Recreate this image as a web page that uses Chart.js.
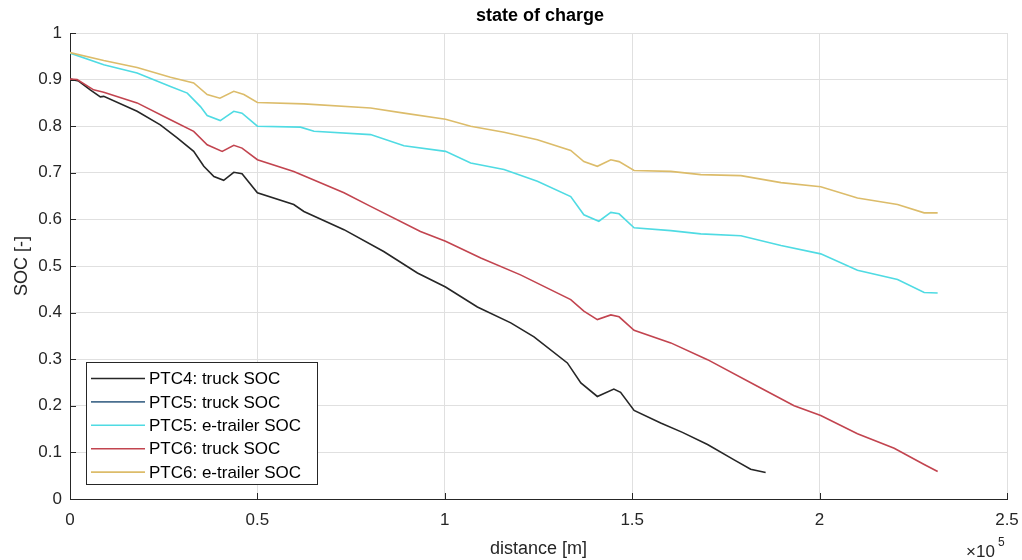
<!DOCTYPE html>
<html>
<head>
<meta charset="utf-8">
<script src="https://cdn.jsdelivr.net/npm/chart.js@4/dist/chart.umd.min.js"></script>
<style>
  html, body { margin: 0; padding: 0; background: #fff; }
  #wrap { width: 1022px; height: 560px; }
</style>
</head>
<body>
<div id="wrap"><canvas id="soc" width="1022" height="560"></canvas></div>
<script>
// --- DATA (distance in m, SOC in -) ---
const seriesNames = ['PTC4: truck SOC', 'PTC5: truck SOC', 'PTC5: e-trailer SOC', 'PTC6: truck SOC', 'PTC6: e-trailer SOC'];
const seriesColors = ['#262626', '#4a6f8f', '#4fdbe3', '#c2444f', '#dcbc6a'];

const ptc4TruckX = [0, 2300, 5400, 8100, 9000, 17900, 24100, 28600, 33000, 35700, 38400, 41000, 43700, 45900, 50000, 59700, 62400, 73100, 83700, 92700, 100200, 108700, 117600, 123800, 132700, 136300, 140700, 145100, 146900, 150500, 157600, 163400, 170100, 177200, 181600, 185600];
const ptc4TruckSoc = [0.901, 0.897, 0.878, 0.863, 0.864, 0.832, 0.803, 0.775, 0.746, 0.714, 0.692, 0.684, 0.701, 0.698, 0.657, 0.632, 0.617, 0.578, 0.531, 0.485, 0.455, 0.412, 0.378, 0.348, 0.292, 0.249, 0.220, 0.236, 0.229, 0.190, 0.163, 0.143, 0.117, 0.084, 0.064, 0.057];

// PTC5 truck curve is not visible in the picture, only its legend entry
const ptc5TruckX = [];
const ptc5TruckSoc = [];

const ptc5TrailerX = [0, 9000, 17900, 26800, 31300, 34800, 36600, 40100, 43700, 45900, 50000, 61500, 65100, 80200, 89100, 100200, 106900, 115800, 124700, 133600, 137100, 141100, 144300, 146500, 150500, 160300, 168300, 179000, 189700, 200300, 210100, 220800, 227900, 231500];
const ptc5TrailerSoc = [0.957, 0.932, 0.914, 0.885, 0.871, 0.842, 0.823, 0.812, 0.832, 0.828, 0.800, 0.798, 0.789, 0.782, 0.758, 0.746, 0.721, 0.707, 0.682, 0.649, 0.610, 0.596, 0.615, 0.612, 0.582, 0.576, 0.569, 0.565, 0.544, 0.526, 0.491, 0.471, 0.443, 0.442];

const ptc6TruckX = [0, 1900, 6300, 9000, 17900, 26800, 33000, 36600, 40600, 43700, 45900, 50000, 59700, 73100, 80200, 93500, 100200, 109600, 120200, 133600, 137100, 140700, 144300, 146500, 150500, 160300, 170100, 183400, 193200, 200300, 210100, 219900, 227900, 231500];
const ptc6TruckSoc = [0.901, 0.900, 0.878, 0.873, 0.850, 0.814, 0.789, 0.760, 0.746, 0.759, 0.753, 0.728, 0.703, 0.657, 0.628, 0.574, 0.553, 0.517, 0.481, 0.428, 0.403, 0.385, 0.395, 0.391, 0.362, 0.335, 0.299, 0.242, 0.200, 0.179, 0.140, 0.109, 0.074, 0.059];

const ptc6TrailerX = [0, 9000, 17900, 26800, 33000, 36600, 40000, 43700, 46400, 50000, 62400, 80200, 89100, 100200, 106900, 115800, 124700, 133600, 137100, 140700, 144300, 146500, 150500, 160300, 168300, 179000, 189700, 200300, 210100, 220800, 227900, 231500];
const ptc6TrailerSoc = [0.958, 0.941, 0.926, 0.905, 0.893, 0.868, 0.860, 0.875, 0.868, 0.851, 0.848, 0.839, 0.828, 0.815, 0.800, 0.787, 0.771, 0.748, 0.724, 0.714, 0.728, 0.724, 0.705, 0.703, 0.696, 0.694, 0.679, 0.670, 0.646, 0.632, 0.614, 0.614];

const xTicks = [0, 50000, 100000, 150000, 200000, 250000];
const xTickLabels = ['0', '0.5', '1', '1.5', '2', '2.5'];
const yTicks = [0, 0.1, 0.2, 0.3, 0.4, 0.5, 0.6, 0.7, 0.8, 0.9, 1];
const yTickLabels = ['0', '0.1', '0.2', '0.3', '0.4', '0.5', '0.6', '0.7', '0.8', '0.9', '1'];

const FONT = '"Liberation Sans", Arial, Helvetica, sans-serif';
const TXT = '#262626';

function pts(xs, ys) {
    return xs.map((x, i) => ({ x: x, y: ys[i] }));
}

const allX = [ptc4TruckX, ptc5TruckX, ptc5TrailerX, ptc6TruckX, ptc6TrailerX];
const allY = [ptc4TruckSoc, ptc5TruckSoc, ptc5TrailerSoc, ptc6TruckSoc, ptc6TrailerSoc];

const datasets = seriesNames.map((name, i) => ({
    label: name,
    data: pts(allX[i], allY[i]),
    borderColor: seriesColors[i],
    borderWidth: 1.6,
    pointRadius: 0,
    tension: 0,
    fill: false,
    order: 5 - i   // later series on top, like the original
}));

// --- text, inner ticks and legend box ---
const decorations = {
    id: 'decorations',
    afterDatasetsDraw(chart) {
        const { ctx, chartArea: a, scales } = chart;
        ctx.save();
        ctx.strokeStyle = TXT;
        ctx.lineWidth = 1;
        // ticks pointing inward
        xTicks.forEach(v => {
            const px = Math.round(scales.x.getPixelForValue(v)) + 0.5;
            ctx.beginPath(); ctx.moveTo(px, a.bottom); ctx.lineTo(px, a.bottom - 6); ctx.stroke();
        });
        yTicks.forEach(v => {
            const py = Math.round(scales.y.getPixelForValue(v)) + 0.5;
            ctx.beginPath(); ctx.moveTo(a.left, py); ctx.lineTo(a.left + 6, py); ctx.stroke();
        });

        // legend
        const lx = 86, ly = 362, lw = 231, lh = 122;
        ctx.fillStyle = '#fff';
        ctx.fillRect(lx, ly, lw, lh);
        ctx.strokeStyle = TXT;
        ctx.strokeRect(lx + 0.5, ly + 0.5, lw, lh);
        ctx.font = '17px ' + FONT;
        ctx.textBaseline = 'middle';
        ctx.textAlign = 'left';
        seriesNames.forEach((name, i) => {
            const y = ly + 16.5 + i * 23.4;
            ctx.strokeStyle = seriesColors[i];
            ctx.lineWidth = 1.6;
            ctx.beginPath(); ctx.moveTo(91, y); ctx.lineTo(145, y); ctx.stroke();
            ctx.fillStyle = '#000';
            ctx.fillText(name, 149, y + 1);
        });
        ctx.restore();
    },
    afterDraw(chart) {
        const { ctx, chartArea: a } = chart;
        const cx = (a.left + a.right) / 2;
        ctx.save();
        ctx.fillStyle = '#000';
        ctx.textAlign = 'center';
        ctx.textBaseline = 'middle';
        ctx.font = 'bold 18px ' + FONT;
        ctx.fillText('state of charge', 540, 16);
        ctx.fillStyle = TXT;
        ctx.font = '18px ' + FONT;
        ctx.fillText('distance [m]', cx, 549);
        ctx.save();
        ctx.translate(22, (a.top + a.bottom) / 2);
        ctx.rotate(-Math.PI / 2);
        ctx.fillText('SOC [-]', 0, 0);
        ctx.restore();
        // exponent
        ctx.textAlign = 'left';
        ctx.font = '17px ' + FONT;
        ctx.fillText('\u00d710', 966, 552);
        ctx.font = '12px ' + FONT;
        ctx.fillText('5', 998, 543);
        ctx.restore();
    }
};

new Chart(document.getElementById('soc'), {
    type: 'line',
    data: { datasets: datasets },
    options: {
        responsive: false,
        animation: false,
        layout: { padding: { left: 0, right: 15, top: 33, bottom: 0 } },
        plugins: { legend: { display: false }, title: { display: false }, tooltip: { enabled: false } },
        scales: {
            x: {
                type: 'linear',
                min: 0,
                max: 250000,
                afterBuildTicks: s => { s.ticks = xTicks.map(v => ({ value: v })); },
                afterFit: s => { s.height = 61; s.paddingRight = 0; },
                ticks: {
                    color: TXT,
                    font: { family: FONT, size: 17 },
                    padding: 11,
                    maxRotation: 0,
                    autoSkip: false,
                    callback: (v) => xTickLabels[xTicks.indexOf(v)]
                },
                grid: { color: '#e0e0e0', drawTicks: false, lineWidth: 1 },
                border: { color: TXT, width: 1 }
            },
            y: {
                type: 'linear',
                min: 0,
                max: 1,
                afterBuildTicks: s => { s.ticks = yTicks.map(v => ({ value: v })); },
                afterFit: s => { s.width = 70; },
                ticks: {
                    color: TXT,
                    font: { family: FONT, size: 17 },
                    padding: 8,
                    autoSkip: false,
                    callback: (v) => yTickLabels[yTicks.findIndex(t => Math.abs(t - v) < 1e-9)]
                },
                grid: { color: '#e0e0e0', drawTicks: false, lineWidth: 1 },
                border: { color: TXT, width: 1 }
            }
        }
    },
    plugins: [decorations]
});
</script>
</body>
</html>
